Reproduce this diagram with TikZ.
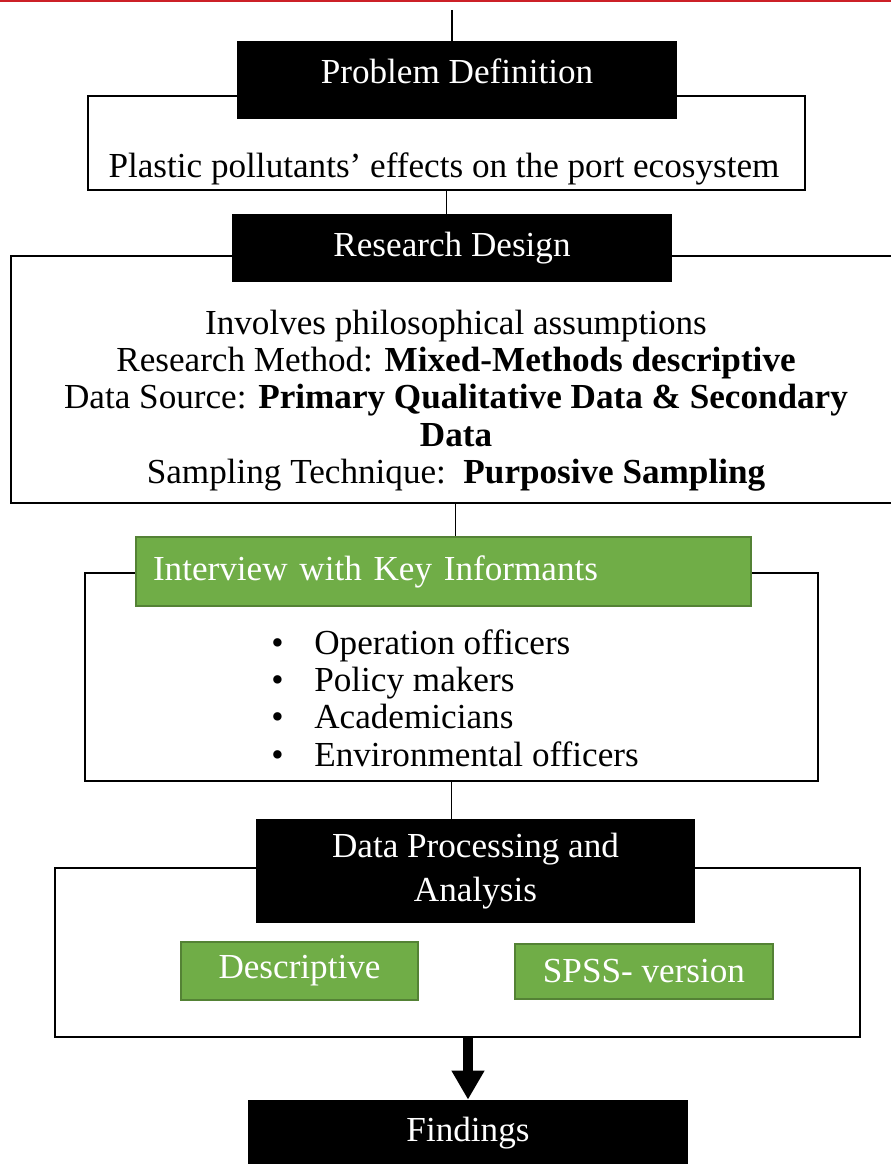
\documentclass[tikz,border=0pt]{standalone}
\usepackage{fontspec}
\setmainfont{Liberation Serif}
\usepackage{tikz}
\usetikzlibrary{arrows.meta, positioning, calc}
\definecolor{officegreen}{RGB}{112,173,71}
\definecolor{greenedge}{RGB}{84,130,53}
\definecolor{topred}{RGB}{204,32,39}
\newcommand{\bulletitem}{\makebox[0.86cm][l]{\textbullet}}

\begin{document}
\begin{tikzpicture}[
    frame/.style={draw, line width=0.8pt, inner sep=0pt},
    head/.style={fill=black, text=white, inner sep=0pt, align=center, font=\fontsize{20}{21.2}\selectfont},
    greenbox/.style={fill=officegreen, draw=greenedge, line width=0.6pt, text=white, inner sep=0pt, font=\fontsize{20}{21.2}\selectfont},
    body/.style={align=center, inner sep=0pt, font=\fontsize{20}{21.2}\selectfont},
    link/.style={line width=0.6pt},
    bigarrow/.style={line width=0.2cm, -{Triangle[width=0.62cm, length=0.58cm]}},
]
% page and top rule
\useasboundingbox (0,0) rectangle (17.82,23.28);
\draw[topred, line width=1.2pt] (0,23.26) -- (17.82,23.26);
% Problem Definition
\coordinate (top) at (9.04,23.08);
\node[frame, minimum width=14.34cm, minimum height=1.88cm] (PDbox) at (8.93,20.42) {};
\node[head, minimum width=8.8cm, minimum height=1.56cm, text depth=0.36cm] (PDhead) at (9.14,21.68) {Problem Definition};
\node[body] (PDtext) at (8.88,19.90) {Plastic pollutants’ effects on the port ecosystem};
% Research Design
\node[frame, minimum width=17.78cm, minimum height=4.94cm] (RDbox) at (9.11,15.69) {};
\node[head, minimum width=8.8cm, minimum height=1.36cm] (RDhead) at (9.04,18.32) {Research Design};
\node[body] (RDtext) at (9.12,15.27) {Involves philosophical assumptions\\
    Research Method: \textbf{Mixed-Methods descriptive}\\
    Data Source: \textbf{Primary Qualitative Data \& Secondary}\\
    \textbf{Data}\\
    Sampling Technique:\ \ \textbf{Purposive Sampling}};
% Interview with Key Informants
\node[frame, minimum width=14.66cm, minimum height=4.16cm] (IKIbox) at (9.03,9.74) {};
\node[greenbox, minimum width=12.3cm, minimum height=1.38cm, text width=11.62cm, align=left] (IKIhead) at (8.87,11.85) {Interview with Key Informants};
\node[body, align=left, anchor=west] (IKIlist) at (5.42,9.32) {\bulletitem Operation officers\\
    \bulletitem Policy makers\\
    \bulletitem Academicians\\
    \bulletitem Environmental officers};
% Data Processing and Analysis
\node[frame, minimum width=16.1cm, minimum height=3.38cm] (DPAbox) at (9.15,4.23) {};
\node[head, minimum width=8.78cm, minimum height=2.08cm, font=\fontsize{20}{25}\selectfont] (DPAhead) at (9.51,5.86) {Data Processing and\\Analysis};
\node[greenbox, minimum width=4.74cm, minimum height=1.16cm] (desc) at (5.99,3.86) {Descriptive};
\node[greenbox, minimum width=5.16cm, minimum height=1.10cm] (spss) at (12.88,3.85) {SPSS- version};
% Findings
\node[head, minimum width=8.8cm, minimum height=1.32cm] (find) at (9.36,0.62) {Findings};
% Connectors
\draw[link] (top) -- (top |- PDhead.north);
\draw[link] (PDbox.south) -- (PDbox.south |- RDhead.north);
\draw[link] (RDbox.south) -- (RDbox.south |- IKIhead.north);
\draw[link] (IKIbox.south) -- (IKIbox.south |- DPAhead.north);
\draw[bigarrow] (find.north |- DPAbox.south) -- (find.north);
\end{tikzpicture}
\end{document}
